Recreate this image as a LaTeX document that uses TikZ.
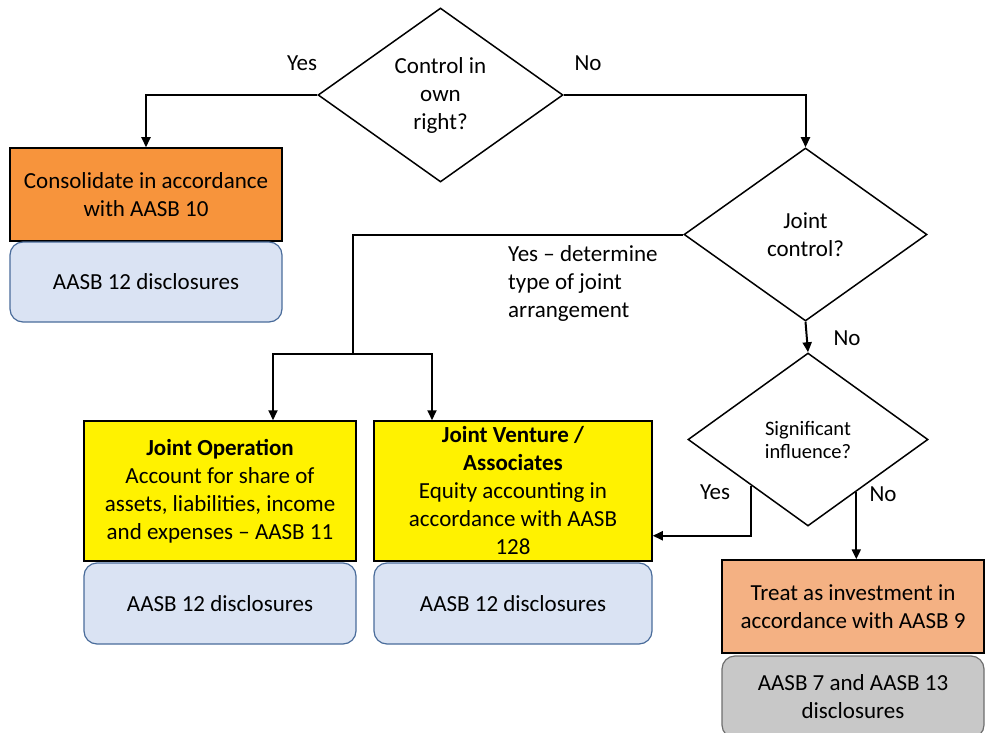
\documentclass[tikz,border=0pt]{standalone}
\usepackage{fontspec}
\setmainfont{Carlito}
\usepackage{xcolor}
\usetikzlibrary{shapes.geometric,calc,arrows.meta}

\definecolor{consorange}{RGB}{247,148,60}
\definecolor{invorange}{RGB}{244,177,131}
\definecolor{discblue}{RGB}{218,227,243}
\definecolor{discborder}{RGB}{74,108,155}
\definecolor{discgray}{RGB}{200,200,200}
\definecolor{grayborder}{RGB}{110,110,110}

\begin{document}
\begin{tikzpicture}[
    x=1pt, y=-1pt,
    font=\fontsize{23}{28}\selectfont,
    decision/.style={diamond, draw, line width=1.5pt, inner sep=0pt, align=center},
    outcome/.style={rectangle, draw, line width=1.5pt, inner sep=0pt, align=center},
    disclosure/.style={rectangle, rounded corners=13pt, draw=discborder, line width=1.2pt,
      fill=discblue, inner sep=0pt, align=center},
    link/.style={line width=2pt, -{Triangle[length=10pt,width=9pt]}},
    lbl/.style={inner sep=0pt}
  ]
  \useasboundingbox (0,0) rectangle (985,733);

  % decisions
  \node[decision, minimum width=245pt, minimum height=174pt] (own) at (440.5,95)
    {Control in\\own\\right?};
  \node[decision, minimum width=243pt, minimum height=173pt] (jc) at (805.5,234.5)
    {Joint\\control?};
  \node[decision, minimum width=240pt, minimum height=173pt,
    font=\fontsize{20.5}{23}\selectfont] (sig) at (808,439.5)
    {Significant\\influence?};

  % outcomes
  \node[outcome, fill=consorange, minimum width=272pt, minimum height=93pt] (cons)
    at (146,194.5) {Consolidate in accordance\\with AASB 10};
  \node[disclosure, minimum width=272pt, minimum height=80pt] (consdisc)
    at (146,282) {AASB 12 disclosures};

  \node[outcome, fill=yellow, minimum width=272pt, minimum height=140pt] (jo)
    at (220,491) {\textbf{Joint Operation}\\Account for share of\\assets, liabilities, income\\and expenses \textendash{} AASB 11};
  \node[disclosure, minimum width=272pt, minimum height=81pt] (jodisc)
    at (220,603.5) {AASB 12 disclosures};

  \node[outcome, fill=yellow, minimum width=278pt, minimum height=140pt] (jv)
    at (513,491) {\textbf{Joint Venture /}\\\textbf{Associates}\\Equity accounting in\\accordance with AASB\\128};
  \node[disclosure, minimum width=278pt, minimum height=81pt] (jvdisc)
    at (513,603.5) {AASB 12 disclosures};

  \node[outcome, fill=invorange, minimum width=262pt, minimum height=93pt] (inv)
    at (853,606.5) {Treat as investment in\\accordance with AASB 9};
  \node[disclosure, fill=discgray, draw=grayborder, minimum width=262pt, minimum height=82pt] (invdisc)
    at (853,697) {AASB 7 and AASB 13\\disclosures};

  % labels
  \node[lbl] (ownyes) at (302,63) {Yes};
  \node[lbl] (ownno) at (588,63) {No};
  \node[lbl, anchor=north west, align=left] (jcyes) at (508,245)
    {Yes \textendash{} determine\\type of joint\\arrangement};
  \node[lbl] (jcno) at (847,338) {No};
  \node[lbl] (sigyes) at (715,492) {Yes};
  \node[lbl] (signo) at (883,494) {No};

  % connectors
  \draw[link] (own.west) -| (cons.north);
  \draw[link] (own.east) -| (jc.north);
  \coordinate (split) at (353,354);
  \draw[line width=2pt] (jc.west) -| (split);
  \draw[link] (split) -| ([xshift=53pt]jo.north);
  \draw[link] (split) -| ([xshift=-81pt]jv.north);
  \draw[link] (jc.south) -- (sig.north);
  \coordinate (sigyesout) at ($(sig.south)!0.47!(sig.west)$);
  \coordinate (signoout) at ($(sig.south)!0.4!(sig.east)$);
  \draw[link] (sigyesout) |- ([yshift=26pt]jv.south east);
  \draw[link] (signoout) -- (signoout |- inv.north);
\end{tikzpicture}
\end{document}
